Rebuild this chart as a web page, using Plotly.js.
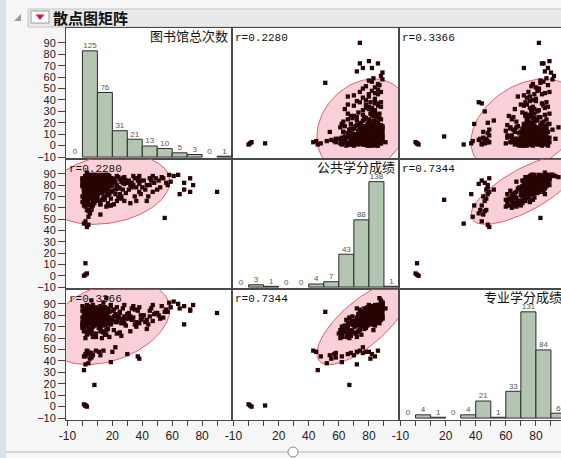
<!DOCTYPE html>
<html><head><meta charset="utf-8">
<script src="https://cdn.plot.ly/plotly-3.0.1.min.js"></script>
<style>html,body{margin:0;padding:0;overflow:hidden;background:#f6f6f6}</style>
</head><body><div id="chart" style="width:570px;height:458px"></div>
<script>
// ---- data (one entry per student, same order in the three arrays) ----
const varNames = ['图书馆总次数', '公共学分成绩', '专业学分成绩'];
const libVisits = [
 2,1,3,2,8,1,2,19,4,3, 4,2,55,4,5,3,6,12,22,1, 2,5,7,3,9,6,11,20,30,37,
 38,14,90,72,68,68,72,64,65,61, 74,51,53,56,58,52,57,54,59,50, 41,43,45,47,42,48,44,46,40,49,
 43,45,47,31,33,35,36,32,34,38, 30,39,31,35,37,33,36,32,38,34, 39,
 3,7,1,5,9,2,6,4,8,0, 6,12,15,11,18,14,17,13,16,23, 26,21,
 2,5,8,1,4,7,3,10,14,19,12,24,28,
 3,6,9,1,13,16,11,25,
 0,1,2,3,4,5,6,7,8,9, 2,5,1,8,3,6,4,7,9,0, 3,6,2,8, 10,11,12,13,14,15,16,17,18,19, 12,15,11,17,14,19, 20,22,24,26,27,29,23,
 2,5,8,1,6,13,17,11,15,25,
 4,
 0,1,2,3,4,5,6,7,8,9, 1,3,5,7,9,0,2,4,6,8, 2,5,7,3,6,4, 10,11,12,13,14,15,16,17,18,19, 10,12,14,16,18,11,13,15,17, 20,21,23,24,26,27,28,29,
 0,1,2,3,4,5,6,7,8,9, 1,3,5,7,9,0,2,4,6,8, 3,5,7, 10,11,12,13,14,15,16,17,18,19, 11,13,15,17,12,19, 20,22,23,25,27,28,21,
 6,14,16,
 3
];
const publicScore = [
 1,0,2,11,67,46,72,62,52,43, 45,48,51,57,55,58,58,54,76,62, 66,68,70,72,74,76,78,80,82,84,
 81,86,74,74,76,82,86,89,72,88, 80,84,87,82,89,78,80,86,83,76, 84,80,86,88,76,82,70,84,78,86,
 66,80,74,84,78,86,66,80,88,74, 82,84,76,70,86,82,78,64,88,80, 72,
 62,65,68,63,66,61,69,64,67,65, 60,63,68,66,62,69,64,67,61,66, 68,63,
 66,69,64,67,68,62,65,69,67,68,63,69,66,
 71,74,72,77,73,75,78,72,
 70,73,76,71,74,78,72,75,79,77, 70,73,76,74,78,71,77,72,75,79, 74,76,72,77, 71,75,78,73,76,70,74,77,72,79, 75,78,73,71,77,74, 75,72,78,70,76,73,77,
 75,78,73,77,79,76,78,74,79,77,
 83,
 80,83,86,81,84,88,82,85,89,87, 80,84,82,86,81,85,83,87,80,84, 88,81,83,86,89,82, 81,84,87,80,83,86,82,85,88,81, 84,86,80,89,83,82,85,87,84, 82,85,80,87,83,86,81,84,
 82,85,88,80,84,87,81,86,83,89, 84,87,82,88,85,86,81,89,83,87, 84,86,82, 83,86,89,82,85,88,84,87,81,86, 88,84,80,89,85,83, 86,83,88,85,82,87,84,
 88,89,87,
 91
];
const majorScore = [
 1,2,0,1,19,32,37,39,38,49, 48,44,83,46,42,47,43,45,52,44, 46,47,45,48,49,47,48,48,46,44,
 42,49,82,85,72,88,84,90,86,92, 89,80,88,85,91,77,83,78,87,82, 80,76,84,89,74,81,72,86,78,82,
 68,79,75,82,76,85,70,79,88,73, 81,80,77,72,84,86,74,66,87,78, 76,
 63,61,66,68,64,60,67,65,62,69, 64,66,63,69,61,65,68,60,67,64, 62,67,
 72,75,71,78,73,70,76,74,77,72,70,79,73,
 64,67,61,68,66,63,69,65,
 72,75,78,70,77,73,76,71,79,74, 75,72,70,78,76,73,79,74,77,71, 75,72,78,76, 74,77,72,79,75,71,78,73,76,74, 70,77,75,72,78,73, 76,74,79,73,77,71,75,
 82,84,81,86,80,83,85,80,87,82,
 67,
 74,77,79,72,76,78,75,79,77,73, 78,71,79,76,74,78,75,79,77,73, 76,78,72,77,79,74, 76,78,75,79,73,77,79,74,78,76, 72,79,75,78,77,74,78,76,79, 77,79,74,78,76,75,79,77,
 84,81,86,83,88,82,85,89,80,87, 83,85,81,84,86,88,80,82,87,83, 89,84,86, 82,85,88,80,84,87,81,86,83,89, 84,86,82,85,83,88, 84,81,87,83,86,89,85,
 93,91,95,
 86
];
// histogram bins (width 10) and the counts printed above the bars
const binCenters   = [-5, 5, 15, 25, 35, 45, 55, 65, 75, 85, 95];
const libCounts    = [0, 125, 76, 31, 21, 13, 10, 5, 3, 0, 1];
const publicCounts = [0, 3, 1, 0, 0, 4, 7, 43, 88, 138, 1];
const majorCounts  = [0, 4, 1, 0, 4, 21, 1, 33, 131, 84, 6];
// correlations printed in the cells
const rLibPublic = 0.2280, rLibMajor = 0.3366, rPublicMajor = 0.7344;
const xTickVals = [-10, 0, 10, 20, 30, 40, 50, 60, 70, 80, 90];
const xTickText = ['-10', '', '', '20', '', '40', '', '60', '', '80', ''];
const yTickVals = [-10, 0, 10, 20, 30, 40, 50, 60, 70, 80, 90];

// ---- geometry ----
const W = 570, H = 458;
const colPx = [[66, 232], [232, 399], [399, 566]];
const rowPx = [[28, 159], [159, 289], [289, 420]];
const px = x => x / W, py = y => 1 - y / H;
const vars = [libVisits, publicScore, majorScore];
const counts = [libCounts, publicCounts, majorCounts];
const rMat = [[1, rLibPublic, rLibMajor], [rLibPublic, 1, rPublicMajor], [rLibMajor, rPublicMajor, 1]];

function mean(a) { return a.reduce((s, v) => s + v, 0) / a.length; }
function sd(a) { const m = mean(a); return Math.sqrt(a.reduce((s, v) => s + (v - m) * (v - m), 0) / (a.length - 1)); }

const traces = [];
const layout = {
  width: W, height: H, margin: {l: 0, r: 0, t: 0, b: 0},
  paper_bgcolor: '#f6f6f6', plot_bgcolor: '#ffffff', showlegend: false,
  font: {family: 'Liberation Sans, Arial, sans-serif', color: '#222'},
  annotations: [], shapes: [], dragmode: false
};
const K = Math.sqrt(-2 * Math.log(0.05));

for (let i = 0; i < 3; i++) {
  for (let j = 0; j < 3; j++) {
    const k = i * 3 + j + 1;
    const xa = k === 1 ? 'x' : 'x' + k, ya = k === 1 ? 'y' : 'y' + k;
    const xKey = k === 1 ? 'xaxis' : 'xaxis' + k, yKey = k === 1 ? 'yaxis' : 'yaxis' + k;
    layout[xKey] = {
      domain: [px(colPx[j][0]), px(colPx[j][1])], range: [-11, 100], anchor: ya,
      showline: true, mirror: true, linecolor: '#4a4a4a', linewidth: 1,
      showgrid: false, zeroline: false, fixedrange: true,
      tickmode: 'array', tickvals: xTickVals, ticktext: xTickText,
      ticks: i === 2 ? 'outside' : '', ticklen: 5, tickcolor: '#444',
      showticklabels: i === 2, tickfont: {size: 12, color: '#222'}
    };
    layout[yKey] = {
      domain: [py(rowPx[i][1]), py(rowPx[i][0])], range: [-11.7, 103], anchor: xa,
      showline: true, mirror: true, linecolor: '#4a4a4a', linewidth: 1,
      showgrid: false, zeroline: false, fixedrange: true,
      tickmode: 'array', tickvals: yTickVals,
      ticks: j === 0 ? 'outside' : '', ticklen: 7, tickcolor: '#444',
      showticklabels: j === 0, tickfont: {size: 11, color: '#222'}
    };
    if (i === j) {
      const c = counts[i];
      const mx = Math.max(...c);
      const h = c.map(v => v > 0 ? v / mx * 93 : null);
      traces.push({type: 'bar', x: binCenters, y: h, base: -10, width: 10, xaxis: xa, yaxis: ya,
        marker: {color: '#b4c6b2', line: {color: '#2a2a2a', width: 1}}, hoverinfo: 'skip'});
      traces.push({type: 'scatter', mode: 'text', x: binCenters, y: c.map(v => -10 + v / mx * 93 + 0.5),
        text: c.map(String), textposition: 'top center', xaxis: xa, yaxis: ya,
        textfont: {size: 8, color: '#555'}, hoverinfo: 'skip', cliponaxis: false});
      layout.annotations.push({xref: 'paper', yref: 'paper', x: px(colPx[j][1] - 3), y: py(rowPx[i][0] + 7.5),
        xanchor: 'right', yanchor: 'middle', showarrow: false, text: varNames[i], borderpad: 0,
        font: {family: 'Noto Sans CJK SC', size: 13, color: '#111'}});
    } else {
      const xs = vars[j], ys = vars[i];
      const mx = mean(xs), my = mean(ys), sx = sd(xs), sy = sd(ys), r = rMat[i][j];
      const ex = [], ey = [];
      for (let t = 0; t <= 120; t++) {
        const a = t / 120 * 2 * Math.PI;
        ex.push(mx + K * sx * Math.cos(a));
        ey.push(my + K * sy * (r * Math.cos(a) + Math.sqrt(1 - r * r) * Math.sin(a)));
      }
      traces.push({type: 'scatter', mode: 'lines', x: ex, y: ey, fill: 'toself',
        fillcolor: 'rgba(238,120,140,0.35)', line: {color: '#e06070', width: 1}, xaxis: xa, yaxis: ya, hoverinfo: 'skip'});
      traces.push({type: 'scatter', mode: 'markers', x: xs, y: ys, xaxis: xa, yaxis: ya,
        marker: {symbol: 'square', size: 4.3, color: '#280404'}, hoverinfo: 'skip'});
      layout.annotations.push({xref: 'paper', yref: 'paper', x: px(colPx[j][0] + 1), y: py(rowPx[i][0] + 2),
        xanchor: 'left', yanchor: 'top', showarrow: false, text: 'r=' + r.toFixed(4),
        font: {family: 'Liberation Mono, monospace', size: 11, color: '#111'}});
    }
  }
}

// ---- window chrome (JMP report header and slider) ----
const P = (x, y) => px(x) + ',' + py(y);
layout.shapes.push(
  {type: 'rect', xref: 'paper', yref: 'paper', x0: 0, x1: px(6), y0: 0, y1: 1, fillcolor: '#d8e2ea', line: {width: 0}, layer: 'below'},
  {type: 'rect', xref: 'paper', yref: 'paper', x0: px(28), x1: 1, y0: py(27), y1: py(9), fillcolor: '#e9e9e9', line: {color: '#c4c4c4', width: 1}, layer: 'below'},
  {type: 'rect', xref: 'paper', yref: 'paper', x0: px(31), x1: px(49), y0: py(23), y1: py(11), fillcolor: '#ffffff', line: {color: '#9a9a9a', width: 1}},
  {type: 'path', xref: 'paper', yref: 'paper', path: 'M' + P(35.5, 14.5) + 'L' + P(44.5, 14.5) + 'L' + P(40, 20) + 'Z', fillcolor: '#d42030', line: {width: 0}},
  {type: 'path', xref: 'paper', yref: 'paper', path: 'M' + P(21, 14) + 'L' + P(21, 21) + 'L' + P(14, 21) + 'Z', fillcolor: '#9a9a9a', line: {width: 0}},
  {type: 'line', xref: 'paper', yref: 'paper', x0: px(6), x1: 1, y0: py(452), y1: py(452), line: {color: '#b4b4b4', width: 1}},
  {type: 'circle', xref: 'paper', yref: 'paper', x0: px(288), x1: px(298), y0: py(457), y1: py(447), fillcolor: '#ffffff', line: {color: '#888', width: 1}}
);
layout.annotations.push({xref: 'paper', yref: 'paper', x: px(51), y: py(17), xanchor: 'left', yanchor: 'middle',
  showarrow: false, text: '<b>散点图矩阵</b>', font: {family: 'Noto Sans CJK SC', size: 15, color: '#111'}});

Plotly.newPlot('chart', traces, layout, {displayModeBar: false, staticPlot: true});
</script></body></html>
